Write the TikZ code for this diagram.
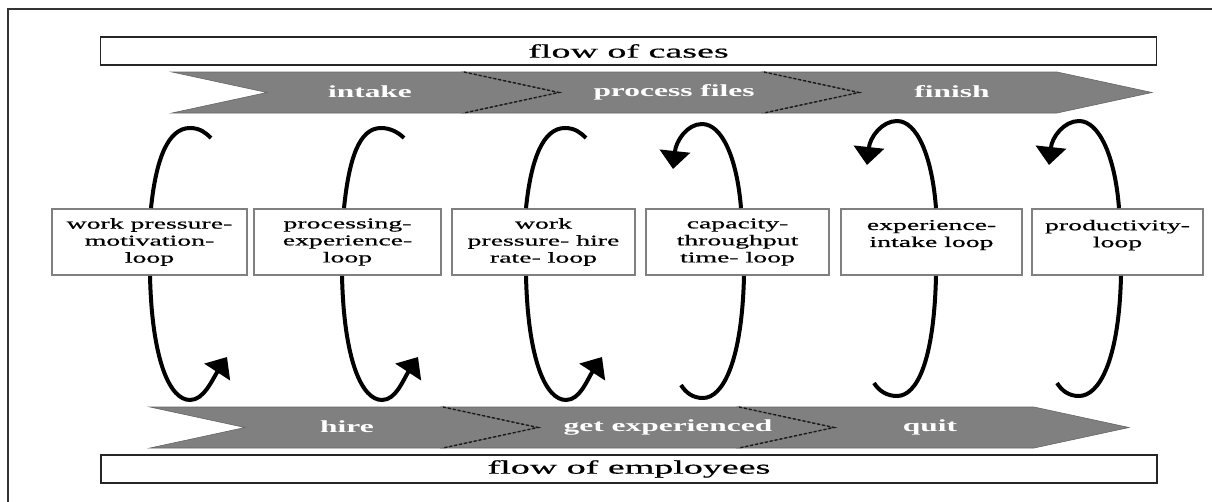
\documentclass[tikz,border=0pt]{standalone}
\usepackage{fontspec}
\setmainfont{Liberation Serif}
\newfontfamily\widefont{Liberation Serif}[FakeStretch=1.85,FakeBold=0.7]
\newfontfamily\bandfont{Liberation Serif Bold}[FakeStretch=1.85]
\newfontfamily\headfont{Liberation Serif}[FakeStretch=2.0,FakeBold=0.6]
\usetikzlibrary{arrows.meta}

\begin{document}
\begin{tikzpicture}[x=1pt,y=-1pt,
  flowbox/.style={draw=black!85,line width=1.6pt,minimum width=1056pt,minimum height=28pt,
    inner sep=0pt,font=\headfont\fontsize{19}{21}\selectfont},
  loopbox/.style={draw=black!50,line width=1.8pt,minimum height=66pt,inner sep=2pt,
    align=center,font=\widefont\fontsize{15}{17}\selectfont},
  bandpart/.style={fill=black!50,draw=black!60,line width=0.6pt},
  bandedge/.style={draw=black!90,line width=1.4pt,dash pattern=on 3pt off 2pt},
  bandlabel/.style={text=white,inner sep=0pt,font=\bandfont\fontsize{17}{19}\selectfont},
  loopline/.style={line width=4pt},
  looparrow/.style={line width=4pt,-{Triangle[length=18pt,width=30pt]}}]
  \useasboundingbox (0,0) rectangle (1212,501);
  \draw[black!80,line width=1.6pt] (1214,9) -- (8,9) -- (8,503);

  % flow of cases
  \node[flowbox] (cases) at (628.5,51) { flow of cases };
  \fill[bandpart] (172,72) -- (464,72) -- (559,92.5) -- (464,113) -- (172,113) -- (267,92.5) -- cycle;
  \fill[bandpart] (464,72) -- (764,72) -- (859,92.5) -- (764,113) -- (464,113) -- (559,92.5) -- cycle;
  \fill[bandpart] (764,72) -- (1057,72) -- (1152,92.5) -- (1057,113) -- (764,113) -- (859,92.5) -- cycle;
  \draw[bandedge] (464,72) -- (559,92.5) -- (464,113);
  \draw[bandedge] (764,72) -- (859,92.5) -- (764,113);
  \node[bandlabel] (intake) at (370,92) { intake };
  \node[bandlabel] (process) at (674,92) { process files };
  \node[bandlabel] (finish) at (952,92) { finish };

  % loops
  \node[loopbox,minimum width=195pt] (box1) at (149.5,242) { work pressure-\\motivation-\\loop };
  \node[loopbox,minimum width=187pt] (box2) at (347.5,242) { processing-\\experience-\\loop };
  \node[loopbox,minimum width=183pt] (box3) at (543.5,242) { work\\pressure- hire\\rate- loop };
  \node[loopbox,minimum width=183pt] (box4) at (737.5,242) { capacity-\\throughput\\time- loop };
  \node[loopbox,minimum width=181pt] (box5) at (931.5,242) { experience-\\intake loop\\\mbox{} };
  \node[loopbox,minimum width=171pt] (box6) at (1117.5,242) { productivity-\\loop\\\mbox{} };

  \coordinate (end1) at (211,138);
  \coordinate (end2) at (404,138);
  \coordinate (end3) at (586,138);
  \coordinate (tip4) at (673,169);
  \coordinate (tip5) at (867,165);
  \coordinate (tip6) at (1049,165);
  \coordinate (tip1) at (227,357);
  \coordinate (tip2) at (418,357);
  \coordinate (tip3) at (602,357);
  \coordinate (end4) at (681,385);
  \coordinate (end5) at (874,383);
  \coordinate (end6) at (1057,383);

  \draw[loopline] ([xshift=1.5pt]box1.north) .. controls +(5,-49) and +(-22,0) .. (190,128) .. controls +(10,0) and +(-5,-5) .. (end1);
  \draw[loopline] ([xshift=-3.5pt]box2.north) .. controls +(5,-49) and +(-22,0) .. (381,128) .. controls +(10,0) and +(-5,-5) .. (end2);
  \draw[loopline] ([xshift=-17.5pt]box3.north) .. controls +(5,-49) and +(-22,0) .. (565,128) .. controls +(10,0) and +(-5,-5) .. (end3);
  \draw[looparrow] ([xshift=3.5pt]box4.north) .. controls +(-4,-50) and +(20,0) .. (702,124) .. controls +(-15,0) and +(3,-28) .. (tip4);
  \draw[looparrow] ([xshift=4.5pt]box5.north) .. controls +(-4,-52) and +(20,0) .. (897,121) .. controls +(-15,0) and +(3,-28) .. (tip5);
  \draw[looparrow] ([xshift=1.5pt]box6.north) .. controls +(-4,-52) and +(20,0) .. (1079,121) .. controls +(-15,0) and +(3,-28) .. (tip6);

  \draw[looparrow] ([xshift=0.5pt]box1.south) .. controls +(2,85) and +(-20,0) .. (190,400) .. controls +(14,0) and +(-15,23) .. (tip1);
  \draw[looparrow] ([xshift=-5.5pt]box2.south) .. controls +(2,85) and +(-20,0) .. (382,400) .. controls +(14,0) and +(-15,23) .. (tip2);
  \draw[looparrow] ([xshift=-17.5pt]box3.south) .. controls +(2,85) and +(-20,0) .. (566,400) .. controls +(14,0) and +(-15,23) .. (tip3);
  \draw[loopline] ([xshift=6.5pt]box4.south) .. controls +(-2,85) and +(20,0) .. (703,398) .. controls +(-10,0) and +(5,8) .. (end4);
  \draw[loopline] ([xshift=4.5pt]box5.south) .. controls +(-2,85) and +(20,0) .. (897,396) .. controls +(-10,0) and +(5,8) .. (end5);
  \draw[loopline] ([xshift=3.5pt]box6.south) .. controls +(-2,85) and +(20,0) .. (1079,396) .. controls +(-10,0) and +(5,8) .. (end6);

  % flow of employees
  \fill[bandpart] (150,407) -- (443,407) -- (538,427.5) -- (443,448) -- (150,448) -- (245,427.5) -- cycle;
  \fill[bandpart] (443,407) -- (739,407) -- (834,427.5) -- (739,448) -- (443,448) -- (538,427.5) -- cycle;
  \fill[bandpart] (739,407) -- (1034,407) -- (1129,427.5) -- (1034,448) -- (739,448) -- (834,427.5) -- cycle;
  \draw[bandedge] (443,407) -- (538,427.5) -- (443,448);
  \draw[bandedge] (739,407) -- (834,427.5) -- (739,448);
  \node[bandlabel] (hire) at (347,427) { hire };
  \node[bandlabel] (experienced) at (668,427) { get experienced };
  \node[bandlabel] (quit) at (930,427) { quit };
  \node[flowbox] (employees) at (629,469) { flow of employees };
\end{tikzpicture}
\end{document}
